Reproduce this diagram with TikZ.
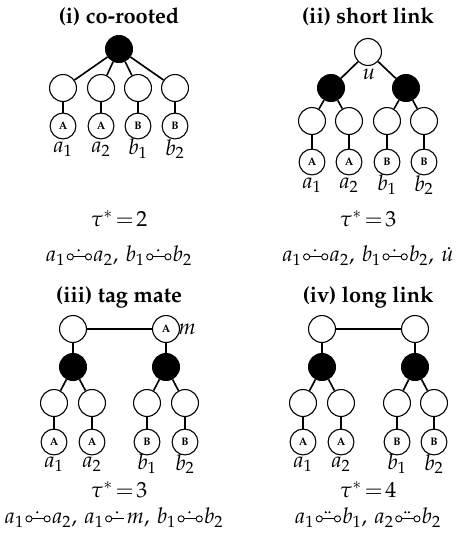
\documentclass[tikz,border=0pt]{standalone}
\usepackage[T1]{fontenc}
\usepackage{mathpazo}
\usepackage{amsmath}

\newcommand{\lienun}{\mkern1mu\tikz[baseline=0pt,line width=0.5pt]{\draw (2pt,2.8pt) circle (1.7pt); \draw (3.7pt,2.8pt) -- (10.3pt,2.8pt); \draw (12pt,2.8pt) circle (1.7pt); \fill (6.6pt,6.4pt) circle (0.65pt);}\mkern1mu}
\newcommand{\liendeux}{\mkern1mu\tikz[baseline=0pt,line width=0.5pt]{\draw (2pt,2.8pt) circle (1.7pt); \draw (3.7pt,2.8pt) -- (10.3pt,2.8pt); \draw (12pt,2.8pt) circle (1.7pt); \fill (5.6pt,6.4pt) circle (0.65pt) (7.6pt,6.4pt) circle (0.65pt);}\mkern1mu}
\newcommand{\demilien}{\mkern1mu\tikz[baseline=0pt,line width=0.5pt]{\draw (2pt,2.8pt) circle (1.7pt); \draw (3.7pt,2.8pt) -- (10.3pt,2.8pt); \fill (6.6pt,6.4pt) circle (0.65pt);}\mkern2mu}

\begin{document}
\begin{tikzpicture}[x=0.55pt,y=-0.55pt,font=\fontsize{12}{14}\selectfont]
\tikzstyle{arete}=[line width=0.9pt]
\tikzset{vide/.style={draw,circle,line width=0.6pt,minimum size=14.8pt,inner sep=0pt,fill=#1},
vide/.default={white},
marque/.style={draw,circle,line width=0.6pt,minimum size=14.2pt,inner sep=0pt,font=\fontsize{6}{7}\selectfont\bfseries},
etiq/.style={inner sep=0pt},
titre/.style={font=\large\bfseries}}
\useasboundingbox (0,0) rectangle (455,546);

% (i)
\node[titre] (T1) at (119,17) {(i) co-rooted};
\node[vide=black] (R) at (119,49) {};
\node[vide] (R1) at (63,88) {};
\node[vide] (R2) at (101,88) {};
\node[vide] (R3) at (138,88) {};
\node[vide] (R4) at (175,88) {};
\node[marque] (Ra1) at (63,126) {A};
\node[marque] (Ra2) at (101,126) {A};
\node[marque] (Rb1) at (138,126) {B};
\node[marque] (Rb2) at (175,126) {B};
\node[etiq] (La1) at (63,149) {$a_1$};
\node[etiq] (La2) at (101,149) {$a_2$};
\node[etiq] (Lb1) at (138,149) {$b_1$};
\node[etiq] (Lb2) at (175,149) {$b_2$};
\node[etiq] (Tau1) at (119,219) {$\tau^*\mkern2mu{=}\mkern2mu2$};
\node[etiq] (P1) at (119,256) {$a_1\lienun a_2,\, b_1\lienun b_2$};
\draw[arete] (R) -- (R1);
\draw[arete] (R) -- (R2);
\draw[arete] (R) -- (R3);
\draw[arete] (R) -- (R4);
\draw[arete] (R1) -- (Ra1);
\draw[arete] (R2) -- (Ra2);
\draw[arete] (R3) -- (Rb1);
\draw[arete] (R4) -- (Rb2);

% (ii)
\node[titre] (T2) at (368,17) {(ii) short link};
\node[vide] (U) at (368,52) {};
\node[etiq] (Lu) at (369,74) {$u$};
\node[vide=black] (S1) at (331,88) {};
\node[vide=black] (S2) at (406,88) {};
\node[vide] (S11) at (312,121) {};
\node[vide] (S12) at (349,121) {};
\node[vide] (S21) at (387,121) {};
\node[vide] (S22) at (424,121) {};
\node[marque] (Sa1) at (312,162) {A};
\node[marque] (Sa2) at (349,162) {A};
\node[marque] (Sb1) at (387,162) {B};
\node[marque] (Sb2) at (424,162) {B};
\node[etiq] (Ma1) at (312,185) {$a_1$};
\node[etiq] (Ma2) at (349,185) {$a_2$};
\node[etiq] (Mb1) at (387,185) {$b_1$};
\node[etiq] (Mb2) at (424,185) {$b_2$};
\node[etiq] (Tau2) at (368,219) {$\tau^*\mkern2mu{=}\mkern2mu3$};
\node[etiq] (P2) at (368,256) {$a_1\lienun a_2,\, b_1\lienun b_2,\, \dot{u}$};
\draw[arete] (U) -- (S1);
\draw[arete] (U) -- (S2);
\draw[arete] (S1) -- (S11);
\draw[arete] (S1) -- (S12);
\draw[arete] (S2) -- (S21);
\draw[arete] (S2) -- (S22);
\draw[arete] (S11) -- (Sa1);
\draw[arete] (S12) -- (Sa2);
\draw[arete] (S21) -- (Sb1);
\draw[arete] (S22) -- (Sb2);

% (iii)
\node[titre] (T3) at (119,297) {(iii) tag mate};
\node[vide] (G) at (73,329) {};
\node[marque,minimum size=14.8pt] (D) at (166,329) {A};
\node[etiq,anchor=west] (Lm) at (178,329) {$m$};
\node[vide=black] (G1) at (73,367) {};
\node[vide=black] (D1) at (166,367) {};
\node[vide] (G11) at (54,403) {};
\node[vide] (G12) at (92,403) {};
\node[vide] (D11) at (147,403) {};
\node[vide] (D12) at (185,403) {};
\node[marque] (Ga1) at (54,442) {A};
\node[marque] (Ga2) at (92,442) {A};
\node[marque] (Db1) at (147,442) {B};
\node[marque] (Db2) at (185,442) {B};
\node[etiq] (Na1) at (54,464) {$a_1$};
\node[etiq] (Na2) at (92,464) {$a_2$};
\node[etiq] (Nb1) at (147,464) {$b_1$};
\node[etiq] (Nb2) at (185,464) {$b_2$};
\node[etiq] (Tau3) at (119,490) {$\tau^*\mkern2mu{=}\mkern2mu3$};
\node[etiq] (P3) at (114,518) {$a_1\lienun a_2,\, a_1\demilien m,\, b_1\lienun b_2$};
\draw[arete] (G) -- (D);
\draw[arete] (G) -- (G1);
\draw[arete] (D) -- (D1);
\draw[arete] (G1) -- (G11);
\draw[arete] (G1) -- (G12);
\draw[arete] (D1) -- (D11);
\draw[arete] (D1) -- (D12);
\draw[arete] (G11) -- (Ga1);
\draw[arete] (G12) -- (Ga2);
\draw[arete] (D11) -- (Db1);
\draw[arete] (D12) -- (Db2);

% (iv)
\node[titre] (T4) at (368,297) {(iv) long link};
\node[vide] (H) at (322,329) {};
\node[vide] (K) at (415,329) {};
\node[vide=black] (H1) at (322,367) {};
\node[vide=black] (K1) at (415,367) {};
\node[vide] (H11) at (303,403) {};
\node[vide] (H12) at (341,403) {};
\node[vide] (K11) at (397,403) {};
\node[vide] (K12) at (434,403) {};
\node[marque] (Ha1) at (303,442) {A};
\node[marque] (Ha2) at (341,442) {A};
\node[marque] (Kb1) at (397,442) {B};
\node[marque] (Kb2) at (434,442) {B};
\node[etiq] (Oa1) at (303,464) {$a_1$};
\node[etiq] (Oa2) at (341,464) {$a_2$};
\node[etiq] (Ob1) at (397,464) {$b_1$};
\node[etiq] (Ob2) at (434,464) {$b_2$};
\node[etiq] (Tau4) at (368,490) {$\tau^*\mkern2mu{=}\mkern2mu4$};
\node[etiq] (P4) at (368,518) {$a_1\liendeux b_1,\, a_2\liendeux b_2$};
\draw[arete] (H) -- (K);
\draw[arete] (H) -- (H1);
\draw[arete] (K) -- (K1);
\draw[arete] (H1) -- (H11);
\draw[arete] (H1) -- (H12);
\draw[arete] (K1) -- (K11);
\draw[arete] (K1) -- (K12);
\draw[arete] (H11) -- (Ha1);
\draw[arete] (H12) -- (Ha2);
\draw[arete] (K11) -- (Kb1);
\draw[arete] (K12) -- (Kb2);
\end{tikzpicture}
\end{document}
